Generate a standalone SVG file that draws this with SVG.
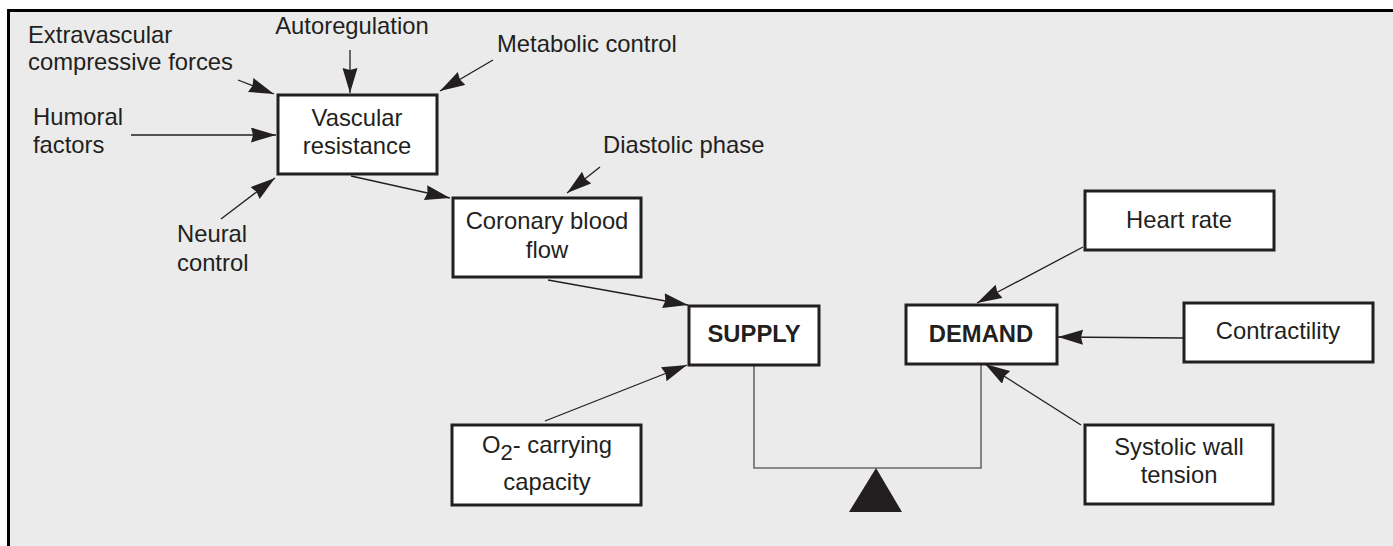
<svg xmlns="http://www.w3.org/2000/svg" width="1393" height="546" viewBox="0 0 1393 546">
<defs>
<style>
.box{fill:#fff;stroke:#231f20;stroke-width:3}
.t{font-family:"Liberation Sans",Arial,sans-serif;font-size:23.8px;fill:#231f20}
.c{text-anchor:middle}
.b{font-weight:bold}
.conn{stroke:#231f20;stroke-width:1.3;fill:none;marker-end:url(#ah)}
.bal{stroke:#6a6a6a;stroke-width:1.6;fill:none}
</style>
<marker id="ah" markerUnits="userSpaceOnUse" markerWidth="27" markerHeight="16" refX="25" refY="7.5" orient="auto">
<path d="M0,0 L25,7.5 L0,15 L2,7.5 z" fill="#231f20"/>
</marker>
</defs>
<rect x="0" y="0" width="1393" height="546" fill="#fff"/>
<rect x="8.5" y="10.5" width="1400" height="560" fill="#ebebeb" stroke="#000" stroke-width="3"/>

<g id="connectors">
<line class="conn" x1="238" y1="80" x2="274" y2="94"/>
<line class="conn" x1="350" y1="50" x2="350" y2="93"/>
<line class="conn" x1="493" y1="60" x2="440" y2="91"/>
<line class="conn" x1="131" y1="135" x2="276" y2="135"/>
<line class="conn" x1="221" y1="219" x2="275" y2="178"/>
<line class="conn" x1="351" y1="176" x2="450" y2="198"/>
<line class="conn" x1="600" y1="167" x2="567" y2="193"/>
<line class="conn" x1="548" y1="280" x2="688" y2="305"/>
<line class="conn" x1="545" y1="421" x2="687" y2="365"/>
<line class="conn" x1="1083" y1="247" x2="977" y2="303"/>
<line class="conn" x1="1183" y1="338" x2="1058" y2="337"/>
<line class="conn" x1="1081" y1="425" x2="985" y2="364"/>
<polyline class="bal" points="754,366 754,468 981,468 981,365"/>
</g>

<g id="fulcrum"><polygon points="876,468 849,512 902,512" fill="#231f20"/></g>

<g id="extravascular"><text class="t" x="28" y="43">Extravascular</text><text class="t" x="28" y="70">compressive forces</text></g>
<g id="autoregulation"><text class="t c" x="352" y="34">Autoregulation</text></g>
<g id="metabolic"><text class="t" x="497" y="52">Metabolic control</text></g>
<g id="humoral"><text class="t" x="33" y="125">Humoral</text><text class="t" x="33" y="153">factors</text></g>
<g id="neural"><text class="t" x="177" y="242">Neural</text><text class="t" x="177" y="271">control</text></g>
<g id="diastolic"><text class="t" x="603" y="153">Diastolic phase</text></g>

<g id="vascular-resistance"><rect class="box" x="278" y="95" width="159" height="79"/><text class="t c" x="357" y="126">Vascular</text><text class="t c" x="357" y="154">resistance</text></g>
<g id="coronary-blood-flow"><rect class="box" x="453" y="198" width="188" height="79"/><text class="t c" x="547" y="229">Coronary blood</text><text class="t c" x="547" y="258">flow</text></g>
<g id="supply"><rect class="box" x="689" y="306" width="130" height="59"/><text class="t c b" x="754" y="342">SUPPLY</text></g>
<g id="demand"><rect class="box" x="906" y="305" width="151" height="59"/><text class="t c b" x="981" y="342">DEMAND</text></g>
<g id="o2"><rect class="box" x="452" y="425" width="189" height="80"/><text class="t c" x="547" y="453">O<tspan font-size="22" dy="7">2</tspan><tspan dy="-7">- carrying</tspan></text><text class="t c" x="547" y="490">capacity</text></g>
<g id="heart-rate"><rect class="box" x="1085" y="191" width="189" height="59"/><text class="t c" x="1179" y="228">Heart rate</text></g>
<g id="contractility"><rect class="box" x="1184" y="303" width="189" height="59"/><text class="t c" x="1278" y="339">Contractility</text></g>
<g id="systolic"><rect class="box" x="1085" y="425" width="188" height="79"/><text class="t c" x="1179" y="455">Systolic wall</text><text class="t c" x="1179" y="483">tension</text></g>
</svg>
